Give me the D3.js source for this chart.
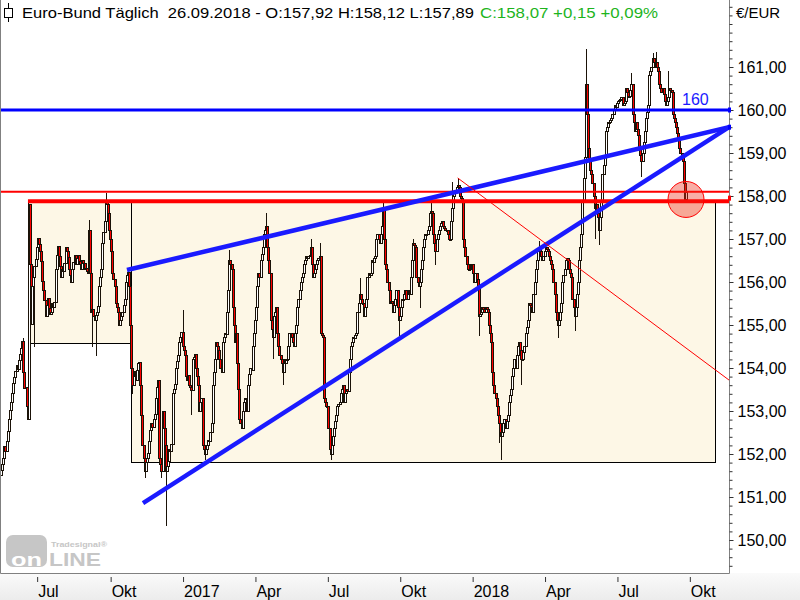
<!DOCTYPE html>
<html>
<head>
<meta charset="utf-8">
<script src="https://cdn.jsdelivr.net/npm/d3@7"></script>
<style>
  body { margin: 0; background: #fff; }
  svg { display: block; font-family: "Liberation Sans", Arial, sans-serif; }
</style>
</head>
<body>
<div id="chart"></div>
<script>
// ---- data (Euro-Bund, daily) ----
const startDate = "2016-05-18";
const firstOpen = 151.50;
const closes = [
  // May - Oct 2016
  151.62,151.75,151.90,152.18,152.05,152.30,152.52,152.80,153.02,153.20,153.41,153.65,153.78,
  153.92,154.05,153.96,154.18,154.32,154.45,154.62,153.90,153.52,153.55,153.10,152.80,157.80,
  156.40,155.02,155.90,156.10,156.35,156.52,156.80,157.02,156.88,156.70,156.48,156.02,155.80,155.58,
  155.20,155.45,155.62,155.38,155.25,155.30,155.50,155.40,155.52,156.30,156.62,156.82,156.60,156.35,
  156.10,156.30,156.25,156.42,156.80,156.70,156.58,156.30,156.15,156.00,156.30,156.45,156.62,156.40,
  156.55,156.62,156.48,156.40,156.30,156.50,156.42,156.30,156.32,156.25,156.20,157.20,156.20,155.30,
  155.35,155.20,155.10,155.22,155.30,155.42,155.90,156.10,156.30,156.90,157.15,157.40,157.90,157.80,
  157.60,157.20,157.00,156.70,156.20,156.05,155.90,155.50,155.40,155.30,155.00,155.10,155.20,155.30,
  155.45,155.60,
  // Oct 2016 - Mar 2017
  156.00,156.15,156.22,155.90,155.00,154.00,153.60,153.80,153.92,153.70,153.95,154.10,154.12,153.60,
  152.90,152.20,151.90,151.60,151.80,151.90,152.02,152.30,152.55,152.70,152.62,152.80,152.92,153.30,
  153.55,153.72,151.90,151.75,151.60,153.00,152.60,152.20,151.60,151.70,151.82,152.10,152.05,152.22,
  153.40,153.50,153.62,154.00,154.15,154.30,154.60,154.70,154.82,154.50,154.40,154.30,153.80,153.70,
  153.82,153.60,153.55,153.48,154.20,154.25,154.32,154.00,153.80,153.60,153.00,153.20,153.30,152.20,
  152.10,152.00,152.10,152.20,152.32,152.28,152.50,152.70,153.60,153.90,154.20,154.60,154.50,154.40,
  154.20,154.00,153.90,154.60,154.70,154.80,154.78,155.30,155.80,156.50,156.40,156.30,155.40,155.00,
  154.60,154.80,154.10,153.50,152.80,152.70,152.60,153.00,153.20,153.30,153.30,
  // Mar - Aug 2017
  153.00,153.60,153.85,154.00,153.95,154.50,154.80,155.10,155.40,155.90,156.20,156.10,156.50,156.65,
  156.80,157.10,157.20,157.30,156.80,156.50,156.20,155.10,154.90,154.70,155.20,155.30,155.40,154.80,
  154.50,154.30,154.20,154.10,153.90,154.20,154.10,154.20,154.20,154.50,154.80,154.80,154.70,154.60,
  154.50,154.80,155.00,155.40,155.60,155.80,156.00,156.10,156.20,156.40,156.50,156.60,156.55,156.60,
  156.62,156.80,156.40,156.10,156.20,156.30,156.40,156.50,156.55,156.60,154.80,154.75,154.70,153.30,
  153.20,153.10,153.10,152.60,152.10,152.00,152.20,152.40,152.60,152.75,152.90,153.10,153.15,153.20,
  153.40,153.50,153.60,153.20,153.40,153.50,153.45,153.90,154.20,154.50,154.60,154.70,154.68,154.75,
  154.80,155.30,155.50,155.70,155.60,155.50,155.50,
  // Aug 2017 - Jan 2018
  155.20,155.40,155.60,156.10,156.20,156.15,156.20,156.50,156.45,156.55,156.60,157.00,157.10,157.00,
  156.90,157.10,157.30,157.70,157.00,156.40,156.30,156.00,155.80,155.50,155.55,155.50,155.30,155.45,
  155.60,155.80,155.40,155.10,155.20,155.40,155.60,155.60,155.70,155.80,155.60,155.70,155.80,155.70,
  156.10,156.50,156.90,156.85,156.80,156.10,156.00,155.90,156.00,156.30,156.50,156.80,157.00,157.10,
  157.10,157.20,157.30,157.60,157.65,157.60,157.10,156.90,156.70,157.00,157.10,157.20,157.30,157.35,
  157.40,157.30,157.25,157.20,157.20,157.10,157.00,157.00,157.40,157.70,158.00,158.05,158.10,158.20,
  158.25,158.20,158.00,157.95,157.90,157.00,156.80,156.60,156.40,156.30,156.30,156.40,156.30,156.40,
  156.20,156.00,156.20,156.05,155.90,155.20,155.25,155.30,155.40,155.35,155.30,155.40,155.35,155.30,
  // Jan - Jun 2018
  155.00,154.80,154.60,153.90,153.60,153.40,153.30,153.10,152.90,152.70,152.50,152.40,152.50,152.70,
  152.80,152.60,152.75,152.90,153.20,153.35,153.50,153.80,154.00,154.20,154.00,154.30,154.50,154.60,
  154.40,154.20,154.20,154.35,154.50,154.80,154.95,155.10,155.50,155.45,155.40,155.30,155.70,156.00,
  156.30,156.50,156.70,156.80,156.70,156.60,156.50,156.60,156.70,156.80,156.75,156.70,156.60,156.50,
  156.40,156.30,156.00,155.70,155.30,155.10,155.00,155.10,155.30,155.50,156.00,156.15,156.30,156.50,
  156.55,156.50,156.30,156.20,156.10,155.60,155.40,155.20,155.40,155.70,156.00,156.50,156.80,157.10,
  157.90,158.40,158.90,160.60,159.90,159.10,158.80,158.60,158.50,158.30,158.00,157.70,157.80,157.60,
  157.50,157.20,157.50,157.90,158.50,158.70,158.90,159.50,159.60,159.70,159.70,
  // Jun - Sep 2018
  159.75,159.80,159.90,160.00,160.10,160.05,160.15,160.20,160.22,160.25,160.30,160.10,160.15,160.20,
  160.50,160.40,160.30,160.32,160.45,160.60,159.90,159.70,159.50,159.70,159.55,159.40,159.10,158.95,
  158.80,159.00,159.25,159.50,159.80,159.95,160.10,160.80,160.90,161.00,161.20,161.10,161.00,161.10,
  161.00,160.90,160.60,160.50,160.40,160.50,160.35,160.20,160.10,160.20,160.30,160.50,160.45,160.40,
  159.90,159.80,159.70,159.60,159.45,159.30,159.10,159.00,158.90,158.80,158.30,157.92,158.07
];
// [day index, price] of the longer shadows
const wickHighs = [[20,154.70],[79,157.45],[94,158.06],[163,155.35],[205,156.75],[238,157.60],
  [278,157.00],[286,156.90],[322,156.10],[343,157.90],[370,157.00],[386,157.95],[405,158.33],
  [410,158.42],[483,156.95],[525,161.42],[566,160.85],[585,161.32],[588,161.35],[599,160.90],[615,158.12]];
const wickLows = [[30,154.50],[82,154.50],[85,154.28],[118,153.40],[129,151.45],[144,151.45],
  [148,150.32],[171,152.90],[183,151.85],[244,154.20],[253,153.60],[296,151.86],[357,154.75],
  [376,155.40],[390,156.40],[429,154.75],[440,154.30],[447,152.25],[449,151.86],[467,153.60],
  [500,154.70],[515,154.85],[533,157.00],[537,156.86],[575,158.45],[615,157.89]];

const lastBar = {date: "26.09.2018", o: 157.92, h: 158.12, l: 157.89, c: 158.07};
const priceTicks = [150, 151, 152, 153, 154, 155, 156, 157, 158, 159, 160, 161];
const quarterNames = ["", "Apr", "Jul", "Okt"];

// drawings, in [day index, price]
const levelBlue = 160;
const levelRedHigh = 158.10;
const levelRedLow = [24.2, 157.88];
const trendUpper = [[113.1, 156.28], [653.6, 159.60]];
const trendLower = [[127.5, 150.86], [653.6, 159.60]];
const redDiagonal = [[410, 158.42], [653.6, 153.72]];
const boxes = [[24.2, 116.7, 154.58, 157.88], [116.7, 641.0, 151.81, 157.88]];
const marker = [615, 157.92];
const axisBlueMarks = [160, 159.6];
const axisRedMarks = [157.95];

// ---- layout ----
const W = 800, H = 600;
const plotRight = 729, plotBottom = 573;

const svg = d3.select("#chart").append("svg")
  .attr("width", W).attr("height", H);

const x = d3.scaleLinear().domain([0, 615]).range([1, 686]);
const y = d3.scaleLinear().domain([150, 161]).range([540, 67]);

// trading days (weekdays) from the start date, a bit past the data for the axis
const parse = d3.timeParse("%Y-%m-%d");
const dates = d3.timeDay.range(parse(startDate), parse("2018-10-20"))
  .filter(d => d.getDay() !== 0 && d.getDay() !== 6);

// OHLC table
const bars = closes.map((c, i) => {
  const o = i === 0 ? firstOpen : closes[i - 1];
  return {i: i, o: o, c: c, h: Math.max(o, c), l: Math.min(o, c)};
});
wickHighs.forEach(([i, p]) => { bars[i].h = Math.max(bars[i].h, p); });
wickLows.forEach(([i, p]) => { bars[i].l = Math.min(bars[i].l, p); });

// background strips
const defs = svg.append("defs");
const grad = defs.append("linearGradient").attr("id", "strip")
  .attr("x1", 0).attr("y1", 0).attr("x2", 0).attr("y2", 1);
grad.append("stop").attr("offset", "0%").attr("stop-color", "#fafafa");
grad.append("stop").attr("offset", "100%").attr("stop-color", "#ececec");
defs.append("clipPath").attr("id", "plotClip")
  .append("rect").attr("x", 0).attr("y", 0).attr("width", plotRight).attr("height", plotBottom);

svg.append("rect").attr("width", W).attr("height", H).attr("fill", "#fff");
svg.append("rect").attr("x", 0).attr("y", plotBottom).attr("width", W).attr("height", H - plotBottom)
  .attr("fill", "url(#strip)");

const plot = svg.append("g").attr("clip-path", "url(#plotClip)");

// cream boxes
plot.selectAll(".box").data(boxes).enter().append("rect")
  .attr("class", "box")
  .attr("x", d => x(d[0]) + 0.5)
  .attr("y", d => y(d[3]) + 0.5)
  .attr("width", d => x(d[1]) - x(d[0]))
  .attr("height", d => y(d[2]) - y(d[3]))
  .attr("fill", "#fdf7e6")
  .attr("stroke", "#000")
  .attr("stroke-width", 1)
  .attr("shape-rendering", "crispEdges");

// candles
const candles = plot.append("g").attr("shape-rendering", "crispEdges");
const cg = candles.selectAll(".candle").data(bars).enter().append("g").attr("class", "candle");
cg.append("line")
  .attr("x1", d => Math.round(x(d.i)) + 0.5)
  .attr("x2", d => Math.round(x(d.i)) + 0.5)
  .attr("y1", d => y(d.h))
  .attr("y2", d => y(d.l))
  .attr("stroke", "#1a1208");
cg.append("rect")
  .attr("x", d => Math.round(x(d.i)) - 0.5)
  .attr("y", d => Math.min(y(d.o), y(d.c)))
  .attr("width", 2)
  .attr("height", d => Math.max(1, Math.abs(y(d.o) - y(d.c))))
  .attr("fill", d => d.c >= d.o ? "#fff" : "#ff0000")
  .attr("stroke", "#1a1208")
  .attr("stroke-width", 1);

// horizontal levels
const xLeft = x.invert(0), xRight = x.invert(plotRight);
plot.append("line")
  .attr("x1", x(xLeft)).attr("x2", x(xRight))
  .attr("y1", y(levelRedHigh)).attr("y2", y(levelRedHigh))
  .attr("stroke", "#ff0000").attr("stroke-width", 2);
plot.append("line")
  .attr("x1", x(levelRedLow[0])).attr("x2", x(xRight))
  .attr("y1", y(levelRedLow[1])).attr("y2", y(levelRedLow[1]))
  .attr("stroke", "#ff0000").attr("stroke-width", 4);
plot.append("line")
  .attr("x1", x(xLeft)).attr("x2", x(xRight))
  .attr("y1", y(levelBlue)).attr("y2", y(levelBlue))
  .attr("stroke", "#0000ff").attr("stroke-width", 3);

// trend lines
const lineGen = d3.line().x(d => x(d[0])).y(d => y(d[1]));
[trendUpper, trendLower].forEach(t => {
  plot.append("path").attr("d", lineGen(t))
    .attr("fill", "none").attr("stroke", "#1a1aff").attr("stroke-width", 4.5);
});
plot.append("path").attr("d", lineGen(redDiagonal))
  .attr("fill", "none").attr("stroke", "#ff0000").attr("stroke-width", 1);

// marker circle
plot.append("circle")
  .attr("cx", x(marker[0])).attr("cy", y(marker[1])).attr("r", 18)
  .attr("fill", "rgba(236,40,20,0.38)")
  .attr("stroke", "#ff0000").attr("stroke-width", 1);

// "160" label
svg.append("text")
  .attr("x", 682).attr("y", y(levelBlue) - 5)
  .attr("font-size", 16).attr("fill", "#1a1aff")
  .text(d3.format("d")(levelBlue));

// frame
svg.append("path")
  .attr("d", `M0.5,0V${plotBottom + 0.5}H${plotRight + 0.5}V0`)
  .attr("fill", "none").attr("stroke", "#808080").attr("stroke-width", 1);

// right axis
const fmt = v => v.toFixed(2).replace(".", ",");
const minor = d3.range(149.4, 162.5, 0.2);
svg.append("g")
  .attr("transform", `translate(${plotRight + 0.5},0)`)
  .call(d3.axisRight(y).tickValues(minor).tickSize(3).tickFormat(""))
  .call(g => g.select(".domain").remove())
  .call(g => g.selectAll("line").attr("stroke", "#333"));
const yAxis = svg.append("g")
  .attr("transform", `translate(${plotRight + 0.5},0)`)
  .call(d3.axisRight(y).tickValues(priceTicks).tickSize(4).tickPadding(4).tickFormat(fmt));
yAxis.select(".domain").remove();
yAxis.selectAll("line").attr("stroke", "#333");
yAxis.selectAll("text").attr("font-size", 16).attr("fill", "#000")
  .attr("font-family", "Liberation Sans, Arial, sans-serif");

axisBlueMarks.forEach(p => {
  svg.append("rect").attr("x", plotRight - 1).attr("y", y(p) - 2.5)
    .attr("width", 3).attr("height", 5).attr("fill", "#0000ff");
});
axisRedMarks.forEach(p => {
  svg.append("rect").attr("x", plotRight - 1).attr("y", y(p) - 2.5)
    .attr("width", 3).attr("height", 5).attr("fill", "#ff0000");
});

svg.append("text").attr("x", 736).attr("y", 18)
  .attr("font-size", 15).attr("fill", "#000").text("€/EUR");

// bottom axis: first trading day of every quarter
const quarterTicks = [];
dates.forEach((d, i) => {
  const prev = dates[i - 1];
  if (prev && d.getMonth() !== prev.getMonth() && d.getMonth() % 3 === 0) quarterTicks.push(i);
});
const xAxis = svg.append("g")
  .attr("transform", `translate(0,${plotBottom + 4})`)
  .call(d3.axisBottom(x).tickValues(quarterTicks).tickSize(5).tickFormat(i => {
    const d = dates[i];
    return d.getMonth() === 0 ? d.getFullYear() : quarterNames[d.getMonth() / 3];
  }));
xAxis.select(".domain").remove();
xAxis.selectAll(".tick line").attr("stroke", "#333")
  .attr("transform", "translate(0.5,0)");
xAxis.selectAll(".tick text")
  .attr("text-anchor", "start").attr("x", 1).attr("y", 20).attr("dy", 0)
  .attr("font-size", 16).attr("fill", "#000")
  .attr("font-family", "Liberation Sans, Arial, sans-serif");

// header
const icon = svg.append("g").attr("shape-rendering", "crispEdges");
icon.append("line").attr("x1", 8.5).attr("x2", 8.5).attr("y1", 3).attr("y2", 22).attr("stroke", "#000");
icon.append("rect").attr("x", 4.5).attr("y", 8.5).attr("width", 8).attr("height", 9)
  .attr("fill", "#fff").attr("stroke", "#000");

const chg = lastBar.c - closes[closes.length - 2];
const sign = v => (v >= 0 ? "+" : "") + fmt(v);
svg.append("text")
  .attr("x", 22).attr("y", 18).attr("font-size", 15).attr("fill", "#000")
  .attr("textLength", 452).attr("lengthAdjust", "spacingAndGlyphs")
  .style("white-space", "pre")
  .text(`Euro-Bund Täglich  ${lastBar.date} - O:${fmt(lastBar.o)} H:${fmt(lastBar.h)} L:${fmt(lastBar.l)}`);
svg.append("text")
  .attr("x", 480).attr("y", 18).attr("font-size", 15).attr("fill", "#1db41d")
  .attr("textLength", 178).attr("lengthAdjust", "spacingAndGlyphs")
  .text(`C:${fmt(lastBar.c)} ${sign(chg)} ${sign(chg / closes[closes.length - 2] * 100)}%`);

// watermark logo
const logo = svg.append("g").attr("fill", "#c6c6c6");
logo.append("rect").attr("x", 6).attr("y", 535).attr("width", 41).attr("height", 32).attr("rx", 7);
logo.append("text").attr("x", 11).attr("y", 566).attr("font-size", 19).attr("font-weight", "bold")
  .attr("fill", "#fff").attr("textLength", 31).attr("lengthAdjust", "spacingAndGlyphs").text("on");
logo.append("text").attr("x", 49).attr("y", 566).attr("font-size", 18).attr("font-weight", "bold")
  .attr("textLength", 52).attr("lengthAdjust", "spacingAndGlyphs").text("LINE");
logo.append("text").attr("x", 51).attr("y", 547).attr("font-size", 8).attr("font-weight", "bold")
  .attr("textLength", 56).attr("lengthAdjust", "spacingAndGlyphs").text("Tradesignal®");

if (closes.length !== 616) {
  svg.append("text").attr("x", 300).attr("y", 300).attr("font-size", 30).text("N=" + closes.length);
}
</script>
</body>
</html>
